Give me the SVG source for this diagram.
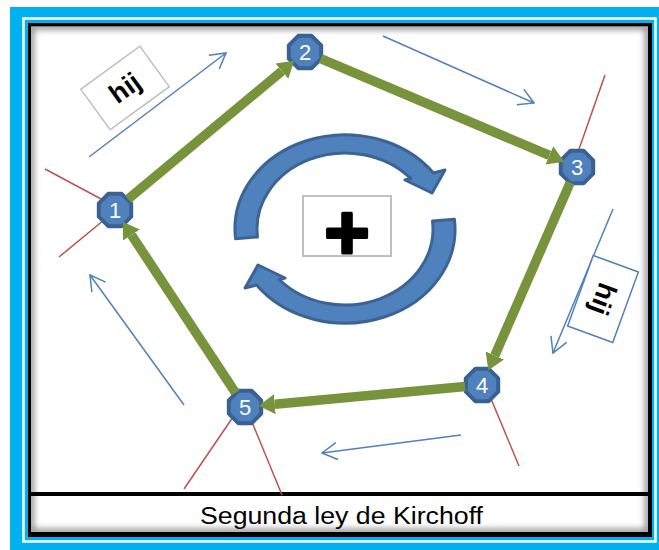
<svg xmlns="http://www.w3.org/2000/svg" width="659" height="550" viewBox="0 0 659 550">
<style>
.num{font-family:"Liberation Sans",Arial,sans-serif;font-size:22px;fill:#fff;text-anchor:middle}
.hij{font-family:"Liberation Sans",Arial,sans-serif;font-size:27px;font-weight:bold;fill:#000;text-anchor:middle}
.green{stroke:#77933C;stroke-width:9.5;fill:none;marker-end:url(#gh)}
.blue{stroke:#4F81BD;stroke-width:1.5;fill:none;marker-end:url(#bh)}
.red{stroke:#C0504D;stroke-width:1.5;fill:none}
.node{fill:#4F81BD;stroke:#3A6192;stroke-width:4;stroke-linejoin:round}
.circ{fill:#4F81BD;stroke:#3B6394;stroke-width:3;stroke-linejoin:round}
</style>
<defs>
<marker id="gh" markerUnits="userSpaceOnUse" viewBox="0 -11 17 22" refX="0" refY="0" markerWidth="17" markerHeight="22" orient="auto">
<path d="M0,-10 L16,0 L0,10 Z" fill="#77933C"/>
</marker>
<marker id="bh" markerUnits="userSpaceOnUse" viewBox="-17 -10 18 20" refX="0" refY="0" markerWidth="18" markerHeight="20" orient="auto">
<path d="M-15,-8.5 L0,0 L-15,8.5" fill="none" stroke="#4F81BD" stroke-width="1.5"/>
</marker>
<polygon id="oct" points="16.2,6.7 6.7,16.2 -6.7,16.2 -16.2,6.7 -16.2,-6.7 -6.7,-16.2 6.7,-16.2 16.2,-6.7"/>
<clipPath id="inner"><rect x="31" y="26.5" width="617" height="505.5"/></clipPath>
<filter id="blur" x="-5%" y="-5%" width="110%" height="110%"><feGaussianBlur stdDeviation="3"/></filter>
</defs>

<!-- frame -->
<rect x="10" y="7" width="649" height="543" fill="#00B0F0"/>
<rect x="23.5" y="18.5" width="632" height="523" fill="none" stroke="#fff" stroke-width="2.5"/>
<rect x="28" y="23" width="624" height="514" fill="#000"/>
<rect x="31" y="26.5" width="617" height="505.5" fill="#fff"/>
<g clip-path="url(#inner)">
<rect x="31" y="26.5" width="617" height="505.5" fill="none" stroke="#8a8a8a" stroke-width="6" filter="url(#blur)"/>
<line x1="31" y1="497" x2="648" y2="497" stroke="#bbb" stroke-width="3" filter="url(#blur)"/>
</g>
<line x1="31" y1="494" x2="648" y2="494" stroke="#000" stroke-width="4"/>
<text x="200" y="524" font-family="'Liberation Sans',Arial,sans-serif" font-size="23" fill="#000" textLength="283" lengthAdjust="spacingAndGlyphs">Segunda ley de Kirchoff</text>

<!-- red branch lines -->
<g id="branches">
<line class="red" x1="45" y1="169" x2="103" y2="200"/>
<line class="red" x1="59" y1="257" x2="104" y2="220"/>
<line class="red" x1="605" y1="75" x2="578" y2="152"/>
<line class="red" x1="489" y1="394" x2="519" y2="466"/>
<line class="red" x1="233" y1="417" x2="184" y2="489"/>
<line class="red" x1="252" y1="422" x2="282" y2="495"/>
</g>

<!-- direction arrows -->
<g id="currents">
<line class="blue" x1="89" y1="157" x2="226" y2="53"/>
<line class="blue" x1="383" y1="36" x2="534" y2="103"/>
<line class="blue" x1="613" y1="209" x2="553" y2="353"/>
<line class="blue" x1="461" y1="435" x2="322" y2="453"/>
<line class="blue" x1="184" y1="405" x2="90" y2="275"/>
</g>

<!-- labels -->
<g id="label-hij-1" transform="translate(125,88) rotate(-36)">
<rect x="-36.5" y="-25" width="73" height="50" fill="#fff" stroke="#BFBFBF" stroke-width="1.5"/>
<text class="hij" x="0" y="9">hij</text>
</g>
<g id="label-hij-2" transform="translate(603,299) rotate(110)">
<rect x="-37.5" y="-24" width="75" height="48" fill="#fff" stroke="#4F81BD" stroke-width="1.5"/>
<text class="hij" x="0" y="9">hij</text>
</g>

<!-- circulation -->
<g id="circulation">
<path class="circ" d="M235.6,238.8 A110,94 0 0 1 433.4,172.9 L445,170 L432,193 L405,180 L410.8,178.5 A88,76 0 0 0 257.5,236.9 Z"/>
<path class="circ" transform="rotate(180 345 229)" d="M235.6,238.8 A110,94 0 0 1 433.4,172.9 L445,170 L432,193 L405,180 L410.8,178.5 A88,76 0 0 0 257.5,236.9 Z"/>
</g>
<g id="sign">
<rect x="303" y="196" width="88" height="60" fill="#fff" stroke="#BFBFBF" stroke-width="2"/>
<text x="347" y="259" font-family="'Liberation Sans',Arial,sans-serif" font-size="78" font-weight="bold" text-anchor="middle" fill="#000" stroke="#000" stroke-width="3" stroke-linejoin="round">+</text>
</g>

<!-- nodes -->
<g id="n1"><use href="#oct" x="115" y="210" class="node"/><text class="num" x="115" y="218">1</text></g>
<g id="n2"><use href="#oct" x="305" y="52" class="node"/><text class="num" x="305" y="60">2</text></g>
<g id="n3"><use href="#oct" x="577" y="167" class="node"/><text class="num" x="577" y="175">3</text></g>
<g id="n4"><use href="#oct" x="482" y="385" class="node"/><text class="num" x="482" y="393">4</text></g>
<g id="n5"><use href="#oct" x="245" y="407" class="node"/><text class="num" x="245" y="415">5</text></g>

<!-- loop connectors -->
<g id="connectors">
<line class="green" x1="128.1" y1="199.1" x2="281.9" y2="71.1"/>
<line class="green" x1="320.7" y1="58.6" x2="549.4" y2="155.4"/>
<line class="green" x1="570.2" y1="182.6" x2="494.8" y2="355.6"/>
<line class="green" x1="465.1" y1="386.6" x2="274.8" y2="404.2"/>
<line class="green" x1="235.6" y1="392.8" x2="131.5" y2="235.0"/>
</g>
</svg>
